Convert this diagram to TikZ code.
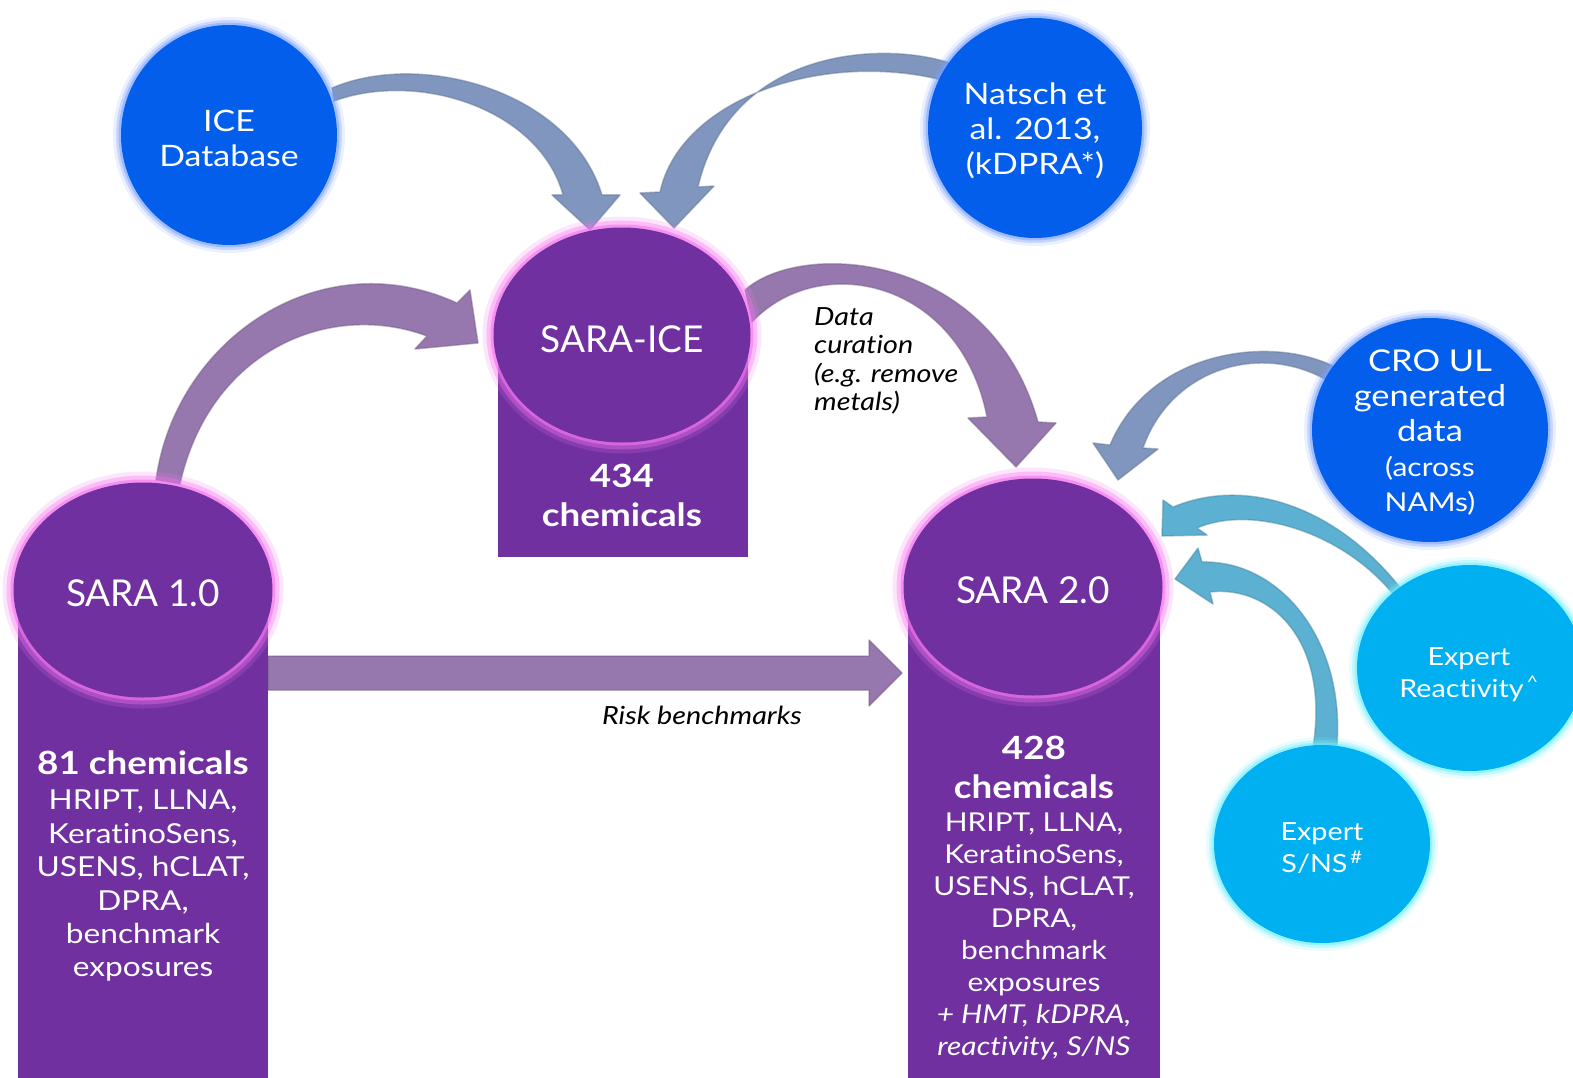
\documentclass[tikz,border=0pt]{standalone}
\usepackage{fontspec}
\setmainfont{Lato}[FakeStretch=1.15,Ligatures=NoCommon]
\newfontfamily\titlefont{Lato}
\usetikzlibrary{shapes.geometric}
\definecolor{cblue}{RGB}{3,94,235}
\definecolor{cpurp}{RGB}{112,48,160}
\definecolor{ccyan}{RGB}{0,176,240}
\definecolor{apurp}{RGB}{150,120,174}
\definecolor{ablue}{RGB}{128,150,190}
\definecolor{ateal}{RGB}{92,176,210}
\definecolor{glowpink}{RGB}{245,115,240}
\definecolor{glowblue}{RGB}{120,160,255}
\definecolor{glowcyan}{RGB}{110,240,255}
\newcommand\tibreak{\kern0pt }
\begin{document}
\begin{tikzpicture}[x=1pt,y=-1pt,
  glowpk/.style={preaction={draw=glowpink,line width=22,draw opacity=0.18},
                 preaction={draw=glowpink,line width=14,draw opacity=0.35},
                 preaction={draw=glowpink,line width=6,draw opacity=0.6}},
  glowbl/.style={preaction={draw=glowblue,line width=16,draw opacity=0.15},
                 preaction={draw=glowblue,line width=10,draw opacity=0.3},
                 preaction={draw=glowblue,line width=5,draw opacity=0.5}},
  glowcy/.style={preaction={draw=glowcyan,line width=16,draw opacity=0.15},
                 preaction={draw=glowcyan,line width=10,draw opacity=0.3},
                 preaction={draw=glowcyan,line width=5,draw opacity=0.5}},
  bluecirc/.style={ellipse,inner sep=0,fill=cblue,glowbl},
  cyancirc/.style={ellipse,inner sep=0,fill=ccyan,glowcy},
  sarcirc/.style={ellipse,inner sep=0,fill=cpurp,glowpk},
  bluetxt/.style={text=white,align=center,inner sep=0,font=\fontsize{29.5}{35}\selectfont},
  cyantxt/.style={text=white,align=center,inner sep=0,font=\fontsize{25}{32}\selectfont},
  sartxt/.style={text=white,inner sep=0,font=\titlefont\fontsize{37}{40}\selectfont},
  sarbox/.style={fill=cpurp,inner sep=0,draw=none},
  boldtxt/.style={text=white,align=center,inner sep=0,font=\bfseries\fontsize{32}{38.5}\selectfont},
  listtxt/.style={text=white,align=center,inner sep=0,font=\fontsize{27.5}{33.4}\selectfont},
  notetxt/.style={text=black,inner sep=0,font=\itshape\fontsize{25}{28.5}\selectfont},
  arr/.style={draw=#1!75!black,draw opacity=0.45,line width=1.5,fill=#1,line join=round}
]
\useasboundingbox (0,0) rectangle (1573,1078);
\fill[white] (0,0) rectangle (1573,1078);

% ---- arrows (behind shapes)
% ICE -> SARA-ICE
\path[arr=ablue] (332,88) .. controls (420,50) and (570,90) .. (602,195) -- (620,195) -- (590,230) -- (552,195) -- (563,195) .. controls (540,110) and (420,70) .. (334,101) -- cycle;
% Natsch -> SARA-ICE
\path[arr=ablue] (950,63) .. controls (880,40) and (730,50) .. (698,187) -- (714,186) -- (674,228) -- (640,193) -- (660,192) .. controls (680,100) and (820,50) .. (942,80) -- cycle;
% SARA 1.0 -> SARA-ICE
\path[arr=apurp] (156,480) .. controls (175,340) and (320,240) .. (457,303) -- (470,290) -- (478,343) -- (415,349) -- (427,336) .. controls (330,300) and (210,350) .. (180,484) -- cycle;
% SARA-ICE -> SARA 2.0
\path[arr=apurp] (745,290) .. controls (800,240) and (990,250) .. (1038,422) -- (1056,423) -- (1016,467) -- (968,418) -- (987,417) .. controls (960,280) and (820,250) .. (752,322) -- cycle;
% CRO UL -> SARA 2.0
\path[arr=ablue] (1333,366) .. controls (1270,335) and (1150,350) .. (1110,445) -- (1093,443) -- (1118,480) -- (1158,449) -- (1143,448) .. controls (1170,370) and (1260,340) .. (1330,382) -- cycle;
% Expert Reactivity -> SARA 2.0
\path[arr=ateal] (1402,590) .. controls (1340,510) and (1250,475) .. (1173,507) -- (1163,500) -- (1162,536) -- (1207,535) -- (1197,528) .. controls (1250,505) and (1340,530) .. (1393,594) -- cycle;
% Expert S/NS -> SARA 2.0
\path[arr=ateal] (1337,745) .. controls (1345,640) and (1280,560) .. (1202,562) -- (1198,548) -- (1175,579) -- (1213,604) -- (1210,592) .. controls (1270,585) and (1330,640) .. (1313,747) -- cycle;
% Risk benchmarks
\path[arr=apurp] (268,656) -- (869,656) -- (869,640) -- (902,673) -- (869,706) -- (869,690) -- (268,690) -- cycle;

% ---- boxes
\path[sarbox] (498,335) rectangle (748,557);
\path[sarbox] (18,590) rectangle (268,1078);
\path[sarbox] (908,588) rectangle (1160,1078);

% ---- circles
\node[bluecirc,minimum width=216,minimum height=220] (ice) at (229,135) {};
\node[bluecirc,minimum width=214,minimum height=220] (natsch) at (1035,128) {};
\node[sarcirc,minimum width=257,minimum height=215] (saraice) at (622,335) {};
\node[sarcirc,minimum width=259,minimum height=215] (sara1) at (143,590) {};
\node[sarcirc,minimum width=259,minimum height=217] (sara2) at (1033,587) {};
\node[bluecirc,minimum width=236,minimum height=224] (cro) at (1430,430) {};
\node[cyancirc,minimum width=226,minimum height=206] (react) at (1470,668) {};
\node[cyancirc,minimum width=216,minimum height=198] (sns) at (1322,844) {};

% ---- circle texts
\node[bluetxt] (icet) at (229,138) {ICE\\Database};
\node[bluetxt] (natscht) at (1035,131) {Natsch et\\al. 2013,\\(kDPRA*)};
\node[sartxt] (saraicet) at (622,339) {SARA-ICE};
\node[sartxt] (sara1t) at (143,593) {SARA 1.0};
\node[sartxt] (sara2t) at (1033,590) {SARA 2.0};
\node[bluetxt,font=\fontsize{30}{35}\selectfont] (crot) at (1430,433) {CRO UL\\generated\\data\\{\fontsize{26}{30}\selectfont (across}\\{\fontsize{26}{30}\selectfont NAMs)}};
\node[cyantxt] (reactt) at (1469,675) {Expert\\Reactivit\tibreak y\textsuperscript{\,\textasciicircum}};
\node[cyantxt] (snst) at (1322,848) {Expert\\S/NS\textsuperscript{\,\#}};

% ---- box texts
\node[boldtxt,anchor=north] (t434) at (622,464) {434\\chemicals};
\node[boldtxt,anchor=north] (t81) at (143,751) {81 chemicals};
\node[listtxt,anchor=north] (l81) at (143,790) {HRIPT, LLNA,\\Kerat\tibreak inoSens,\\USENS, hCLAT,\\DPRA,\\benchmark\\exposures};
\node[boldtxt,anchor=north] (t428) at (1034,736) {428\\chemicals};
\node[listtxt,anchor=north,font=\fontsize{26}{32}\selectfont] (l428) at (1034,813) {HRIPT, LLNA,\\Kerat\tibreak inoSens,\\USENS, hCLAT,\\DPRA,\\benchmark\\exposures\\\textit{+ HMT, kDPRA,}\\\textit{reactivit\tibreak y, S/NS}};

% ---- notes
\node[notetxt,anchor=north west,align=left] (curation) at (814,307) {Data\\curat\tibreak ion\\(e.g. remove\\metals)};
\node[notetxt] (risk) at (702,715) {Risk benchmarks};
\end{tikzpicture}
\end{document}
